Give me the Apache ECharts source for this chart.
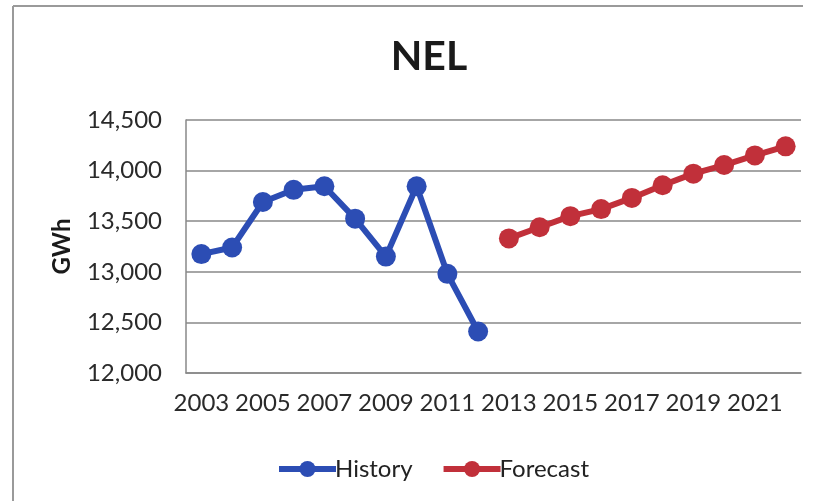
<!DOCTYPE html>
<html>
<head>
<meta charset="utf-8">
<style>
  html, body { margin: 0; padding: 0; background: #ffffff; }
  #chart { width: 819px; height: 501px; }
</style>
<script src="https://cdn.jsdelivr.net/npm/echarts@6/dist/echarts.min.js"></script>
</head>
<body>
<div id="chart"></div>
<script>
// Net energy for load (GWh), actuals and projection
const years = ['2003','2004','2005','2006','2007','2008','2009','2010','2011','2012',
               '2013','2014','2015','2016','2017','2018','2019','2020','2021','2022'];
const history = [13175, 13240, 13690, 13810, 13845, 13525, 13150, 13845, 12980, 12410,
                 null, null, null, null, null, null, null, null, null, null];
const forecast = [null, null, null, null, null, null, null, null, null, null,
                  13330, 13440, 13550, 13620, 13730, 13855, 13970, 14055, 14150, 14240];
const yMin = 12000, yMax = 14500, yStep = 500;

const FONT = 'Lato, "Open Sans", sans-serif';
const BLUE = '#2C4DB4';
const RED = '#C1303A';

const chart = echarts.init(document.getElementById('chart'), null, { renderer: 'canvas' });

chart.setOption({
  backgroundColor: '#ffffff',
  animation: false,
  title: {
    text: 'NEL',
    left: 424,
    textAlign: 'center',
    top: 31,
    textStyle: { fontFamily: FONT, fontWeight: 'bold', fontSize: 41, color: '#1a1a1a' }
  },
  graphic: [
    { type: 'line', shape: { x1: 13, y1: 6, x2: 13, y2: 501 },
      style: { stroke: '#9a9a9a', lineWidth: 2 } },
    { type: 'line', shape: { x1: 13, y1: 6, x2: 803, y2: 6 },
      style: { stroke: '#9a9a9a', lineWidth: 2 } }
  ],
  legend: {
    left: 271,
    top: 452,
    itemWidth: 57,
    itemHeight: 20,
    itemGap: 28,
    data: ['History', 'Forecast'],
    lineStyle: { width: 6 },
    textStyle: { fontFamily: FONT, fontSize: 24, color: '#222222', padding: [0, 0, 0, -6] }
  },
  grid: { left: 186, right: 18, top: 120, bottom: 128 },
  xAxis: {
    type: 'category',
    data: years,
    boundaryGap: true,
    axisLine: { lineStyle: { color: '#888888', width: 1.5 } },
    axisTick: { show: false },
    axisLabel: {
      interval: 1,
      margin: 18,
      fontFamily: FONT, fontSize: 24, color: '#2a2a2a'
    }
  },
  yAxis: {
    type: 'value',
    min: yMin, max: yMax, interval: yStep,
    name: 'GWh',
    nameLocation: 'middle',
    nameGap: 112,
    nameRotate: 90,
    nameTextStyle: { fontFamily: FONT, fontWeight: 'bold', fontSize: 24, color: '#1a1a1a' },
    axisLine: { show: true, lineStyle: { color: '#888888', width: 1.5 } },
    axisTick: { show: false },
    splitLine: { lineStyle: { color: '#888888', width: 1.5 } },
    axisLabel: {
      margin: 24,
      fontFamily: FONT, fontSize: 24, color: '#2a2a2a',
      formatter: v => v.toLocaleString('en-US')
    }
  },
  series: [
    {
      name: 'History', type: 'line', data: history,
      symbol: 'circle', symbolSize: 20,
      lineStyle: { color: BLUE, width: 6 },
      itemStyle: { color: BLUE }
    },
    {
      name: 'Forecast', type: 'line', data: forecast,
      symbol: 'circle', symbolSize: 20,
      lineStyle: { color: RED, width: 6 },
      itemStyle: { color: RED }
    }
  ]
});
</script>
</body>
</html>
